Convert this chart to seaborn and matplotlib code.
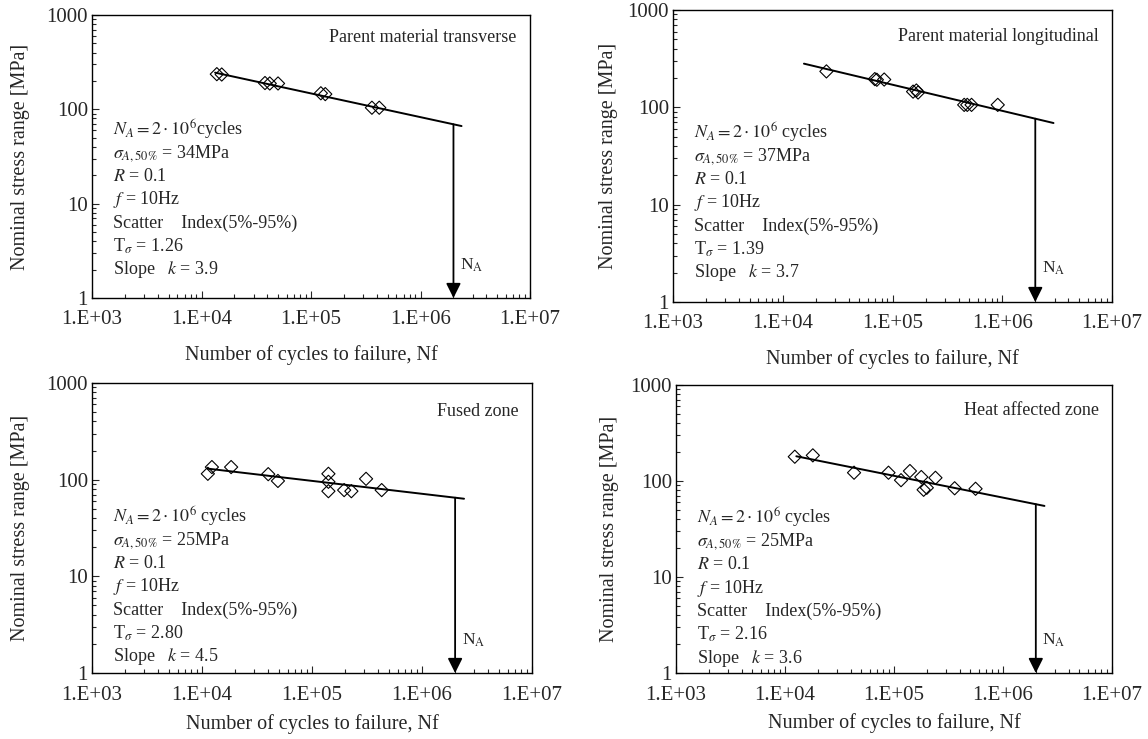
import numpy as np
import seaborn as sns
import matplotlib.pyplot as plt
from matplotlib.ticker import FixedLocator, FuncFormatter, LogLocator, NullFormatter
from matplotlib.transforms import offset_copy

# panel 1: parent material transverse
n_pts_1 = [1.38e4, 1.53e4, 3.8e4, 4.2e4, 5.0e4, 1.23e5, 1.35e5, 3.6e5, 4.2e5]
s_pts_1 = [236, 234, 190, 188, 188, 148, 145, 104, 104]
fit_n_1 = [1.33e4, 2.37e6]
fit_s_1 = [245, 66.5]

# panel 2: parent material longitudinal
n_pts_2 = [2.5e4, 6.9e4, 7.2e4, 8.4e4, 1.54e5, 1.65e5, 1.71e5, 4.5e5, 4.8e5, 5.25e5, 9.1e5]
s_pts_2 = [234, 195, 192, 193, 145, 149, 142, 106, 106, 106, 106]
fit_n_2 = [1.56e4, 2.93e6]
fit_s_2 = [281, 69]

# panel 3: fused zone
n_pts_3 = [1.13e4, 1.23e4, 1.84e4, 4.0e4, 4.9e4, 1.41e5, 1.41e5, 1.41e5, 1.96e5, 2.28e5, 3.1e5, 4.3e5]
s_pts_3 = [115, 135, 135, 114, 97, 115, 95, 76, 78, 76, 102, 78]
fit_n_3 = [1.13e4, 2.41e6]
fit_s_3 = [130, 63.5]

# panel 4: heat affected zone
n_pts_4 = [1.23e4, 1.8e4, 4.3e4, 8.9e4, 1.16e5, 1.4e5, 1.78e5, 1.87e5, 2.0e5, 2.4e5, 3.6e5, 5.6e5]
s_pts_4 = [179, 185, 122, 122, 102, 127, 110, 81, 85, 108, 84, 83]
fit_n_4 = [1.27e4, 2.4e6]
fit_s_4 = [181, 55]

titles = ["Parent material transverse", "Parent material longitudinal",
          "Fused zone", "Heat affected zone"]
sigma_a = ["34", "37", "25", "25"]
t_sigma = ["1.26", "1.39", "2.80", "2.16"]
slope_k = ["3.9", "3.7", "4.5", "3.6"]
cycles_txt = ["cycles", " cycles", " cycles", " cycles"]
n_a = 2e6
x_ticks = [1e3, 1e4, 1e5, 1e6, 1e7]
y_ticks = [1, 10, 100, 1000]

sns.set_style("ticks")
plt.rcParams['font.family'] = ['Liberation Serif', 'DejaVu Serif']
plt.rcParams['mathtext.fontset'] = 'stix'

W, H = 1148, 739
fig = plt.figure(figsize=(W / 100, H / 100), dpi=100)

# boxes in pixels: left, right, top, bottom
boxes = [(92, 530, 15, 298), (673, 1112, 10, 302),
         (92, 532, 383, 673), (676, 1112, 385, 673)]
info_y = [0.594, 0.579, 0.538, 0.538]
title_y = [0.92, 0.91, 0.90, 0.91]
ylab_x = [-0.142, -0.125, -0.142, -0.13]
xlab_y = [-0.165, -0.16, -0.14, -0.14]

data = [(n_pts_1, s_pts_1, fit_n_1, fit_s_1), (n_pts_2, s_pts_2, fit_n_2, fit_s_2),
        (n_pts_3, s_pts_3, fit_n_3, fit_s_3), (n_pts_4, s_pts_4, fit_n_4, fit_s_4)]

for i, (l, r, t, b) in enumerate(boxes):
    ax = fig.add_axes([l / W, 1 - b / H, (r - l) / W, (b - t) / H])
    n_pts, s_pts, fit_n, fit_s = data[i]

    sns.lineplot(x=fit_n, y=fit_s, ax=ax, color='black', lw=1.4)
    sns.scatterplot(x=n_pts, y=s_pts, ax=ax, marker='D', s=45, facecolors='none',
                    edgecolor='black', linewidth=0.8, zorder=3)

    ax.set_xscale('log')
    ax.set_yscale('log')
    ax.set_xlim(1e3, 1e7)
    ax.set_ylim(1, 1000)
    ax.xaxis.set_major_locator(FixedLocator(x_ticks))
    ax.xaxis.set_major_formatter(FuncFormatter(lambda v, p: "1.E+%02d" % round(np.log10(v))))
    ax.yaxis.set_major_locator(FixedLocator(y_ticks))
    ax.yaxis.set_major_formatter(FuncFormatter(lambda v, p: "%g" % v))
    for axis in (ax.xaxis, ax.yaxis):
        axis.set_minor_locator(LogLocator(base=10, subs=range(2, 10)))
        axis.set_minor_formatter(NullFormatter())
    ax.tick_params(which='both', direction='in', top=False, right=False, width=0.8)
    ax.tick_params(which='major', length=5, labelsize=15)
    ax.tick_params(axis='x', which='major', pad=9)
    ax.tick_params(axis='y', which='major', pad=3)
    ax.tick_params(which='minor', length=3)
    for sp in ax.spines.values():
        sp.set_linewidth(1.0)
        sp.set_color('black')

    ax.set_xlabel("Number of cycles to failure, Nf", fontsize=14.5)
    ax.xaxis.set_label_coords(0.5, xlab_y[i])
    ax.set_ylabel("Nominal stress range [MPa]", fontsize=14.5)
    ax.yaxis.set_label_coords(ylab_x[i], 0.5)

    # N_A arrow from the fitted line down to the axis
    top = 10 ** np.interp(np.log10(n_a), np.log10(fit_n), np.log10(fit_s))
    ax.annotate('', xy=(n_a, 1), xytext=(n_a, top),
                arrowprops=dict(arrowstyle='-|>', color='black', lw=1.3,
                                mutation_scale=22, shrinkA=0, shrinkB=0))
    ax.text(n_a * 1.15, 2.2, r'N$_{\rm A}$', fontsize=12.5, va='center')

    ax.text(0.97, title_y[i], titles[i], transform=ax.transAxes,
            ha='right', va='center', fontsize=13)

    lines = [r"$N_A = 2\cdot10^6$" + cycles_txt[i],
             r"$\sigma_{A,50\%}$ = " + sigma_a[i] + "MPa",
             r"$R$ = 0.1",
             r"$f$ = 10Hz",
             "Scatter    Index(5%-95%)",
             r"T$_\sigma$ = " + t_sigma[i],
             r"Slope   $k$ = " + slope_k[i]]
    for j, txt in enumerate(lines):
        tr = offset_copy(ax.transAxes, fig=fig, y=-16.8 * j, units='points')
        ax.text(0.048, info_y[i], txt, transform=tr, ha='left', va='center', fontsize=13)

fig.savefig("out.png", dpi=100)
